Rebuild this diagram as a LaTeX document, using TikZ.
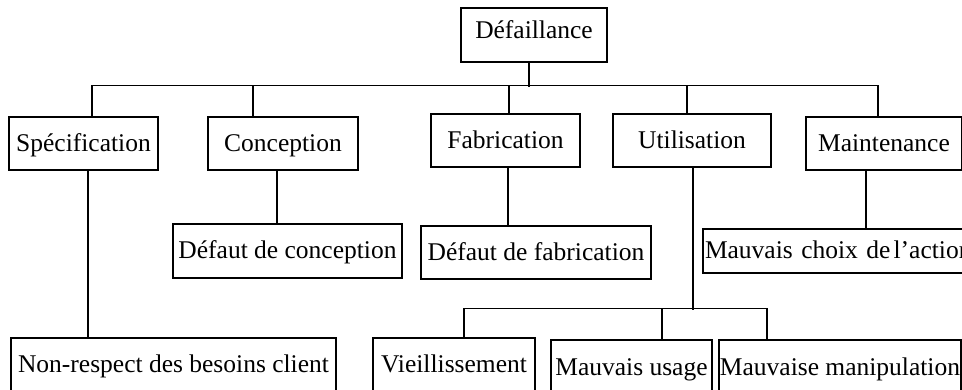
\documentclass[tikz,border=0pt]{standalone}
\usepackage{fontspec}
\setmainfont{Liberation Serif}
\usetikzlibrary{calc,positioning}

\tikzset{
    box/.style={draw,line width=1.2pt,inner sep=0pt,minimum height=53pt,
        text height=23pt,text depth=7pt,font=\fontsize{25.5}{29}\selectfont},
    link/.style={line width=1.2pt}
}

\begin{document}
\begin{tikzpicture}[x=1pt,y=-1pt]
    \useasboundingbox (0,0) rectangle (962,390);
    \clip (0,0) rectangle (962,390);

    % racine
    \node[box,minimum width=146pt,minimum height=54pt,text height=20pt,text depth=12pt] (dfl) at (534,35) {Défaillance};

    % niveau 1
    \node[box,minimum width=149pt] (spec) at (83.5,143.5) {Spécification};
    \node[box,minimum width=150pt] (conc) at (283,143.5) {Conception};
    \node[box,minimum width=149pt] (fab) at (505.5,140.5) {Fabrication};
    \node[box,minimum width=158pt] (util) at (692,140.5) {Utilisation};
    \node[box,minimum width=156pt] (maint) at (884,143.5) {Maintenance};

    % niveau 2
    \node[box,minimum width=229pt,minimum height=54pt] (dconc) at (287.5,251) {Défaut de conception};
    \node[box,minimum width=230pt] (dfab) at (536,252.5) {Défaut de fabrication};
    \node[box,minimum width=306pt,minimum height=44pt,text width=302pt,align=left] (choix) at (856,251) {Mauvais choix de\hspace{0.12em}l’action};

    % niveau 3
    \node[box,minimum width=325pt,minimum height=54pt] (nonr) at (173.5,365) {Non-respect des besoins client};
    \node[box,minimum width=162pt,minimum height=54pt] (vieil) at (454,365) {Vieillissement};
    \node[box,minimum width=161pt,minimum height=54pt] (usage) at (631.5,367) {Mauvais usage};
    \node[box,minimum width=242pt,minimum height=54pt] (manip) at (840,367) {Mauvaise manipulation};

    % liaisons racine -> niveau 1
    \draw[link] ($(dfl.south)+(-5,0)$) -- ++(0,24);
    \draw[link] ($(spec.north)+(8.5,0)$) |- ($(maint.north)+(-6,-31)$) -- ($(maint.north)+(-6,0)$);
    \draw[link] ($(conc.north)+(-30,0)$) -- ++(0,-31);
    \draw[link] ($(fab.north)+(3.5,0)$) -- ++(0,-28);
    \draw[link] ($(util.north)+(-5,0)$) -- ++(0,-28);

    % liaisons niveau 1 -> niveau 2
    \draw[link] ($(spec.south)+(4.5,0)$) -- ++(0,168);
    \draw[link] ($(conc.south)+(-6,0)$) -- ++(0,54);
    \draw[link] ($(fab.south)+(2.5,0)$) -- ++(0,59);
    \draw[link] ($(maint.south)+(-18,0)$) -- ++(0,59);

    % utilisation -> niveau 3
    \draw[link] ($(util.south)+(1,0)$) -- ++(0,142);
    \draw[link] ($(vieil.north)+(10,0)$) |- ($(manip.north)+(-73,-31)$) -- ($(manip.north)+(-73,0)$);
    \draw[link] ($(usage.north)+(30.5,0)$) -- ++(0,-31);
\end{tikzpicture}
\end{document}
